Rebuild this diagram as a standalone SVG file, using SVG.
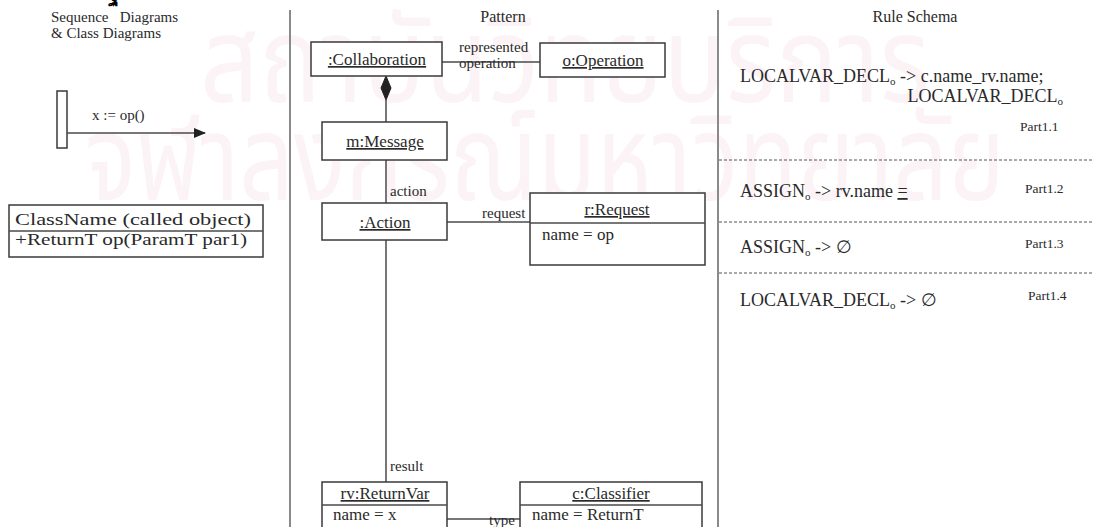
<svg xmlns="http://www.w3.org/2000/svg" width="1093" height="527" viewBox="0 0 1093 527">
  <defs>
    <style>
      text { font-family: "Liberation Serif", "Times New Roman", serif; fill: #2a2a2a; }
      .title { font-size: 15px; }
      .head { font-size: 16px; }
      .lbl { font-size: 17px; }
      .cls { font-size: 16px; }
      .edge { font-size: 15px; }
      .rule { font-size: 18px; }
      .part { font-size: 13.5px; }
      .box { fill: #fff; stroke: #3a3a3a; stroke-width: 1.5; }
      .line { stroke: #4a4a4a; stroke-width: 1.5; fill: none; }
      .divider { stroke: #8a8a8a; stroke-width: 2; }
      .dash { stroke: #555; stroke-width: 1; stroke-dasharray: 3 2; }
      .wm { font-family: "Noto Sans Thai", "Loma", "Garuda", "Norasi", sans-serif; fill: #fcf3f6; font-size: 120px; }
    </style>
    <marker id="arrow" markerWidth="12" markerHeight="10" refX="11" refY="5" orient="auto" markerUnits="userSpaceOnUse">
      <path d="M0,0 L12,5 L0,10 Z" fill="#222"/>
    </marker>
  </defs>
  <rect width="1093" height="527" fill="#fff"/>

  <!-- faint background watermark -->
  <g id="watermark">
    <text class="wm" x="200" y="102" textLength="730" lengthAdjust="spacingAndGlyphs">สถาบันวิทยบริการ</text>
    <text class="wm" x="85" y="200" textLength="920" lengthAdjust="spacingAndGlyphs">จุฬาลงกรณ์มหาวิทยาลัย</text>
  </g>

  <!-- fragment of a line from the page above -->
  <text x="108" y="1" font-size="20" font-weight="bold" style="fill:#000">ฐ</text>

  <!-- panel dividers -->
  <line class="divider" x1="290" y1="10" x2="290" y2="527"/>
  <line class="divider" x1="718" y1="10" x2="718" y2="527"/>

  <!-- left panel: sequence and class diagrams -->
  <g id="left-titles">
    <text class="title" x="51" y="22" xml:space="preserve">Sequence   Diagrams</text>
    <text class="title" x="51" y="38">&amp; Class Diagrams</text>
  </g>
  <g id="lifeline">
    <rect class="box" x="57" y="91" width="10" height="57"/>
  </g>
  <g id="call-message">
    <line class="line" x1="67" y1="133" x2="205" y2="133" marker-end="url(#arrow)"/>
    <text class="title" x="92" y="120" font-size="14">x := op()</text>
  </g>
  <g id="called-class">
    <rect class="box" x="9" y="205" width="254" height="52"/>
    <line class="line" x1="9" y1="231" x2="263" y2="231"/>
    <text class="cls" x="15" y="225" textLength="236" lengthAdjust="spacingAndGlyphs">ClassName (called object)</text>
    <text class="cls" x="15" y="245" textLength="232" lengthAdjust="spacingAndGlyphs">+ReturnT op(ParamT par1)</text>
  </g>

  <!-- middle panel: pattern -->
  <text class="head" x="503" y="22" text-anchor="middle">Pattern</text>

  <g id="connectors">
    <line class="line" x1="442" y1="62" x2="540" y2="62"/>
    <path d="M386,76 L391,88 L386,100 L381,88 Z" fill="#222" stroke="#222" stroke-width="1"/>
    <line class="line" x1="386" y1="100" x2="386" y2="122"/>
    <line class="line" x1="386" y1="160" x2="386" y2="203"/>
    <line class="line" x1="447" y1="222" x2="530" y2="222"/>
    <line class="line" x1="386" y1="240" x2="386" y2="482"/>
    <line class="line" x1="447" y1="519" x2="520" y2="519"/>
    <text class="edge" x="459" y="52">represented</text>
    <text class="edge" x="459" y="68">operation</text>
    <text class="edge" x="390" y="196">action</text>
    <text class="edge" x="482" y="218">request</text>
    <text class="edge" x="390" y="471">result</text>
    <text class="edge" x="489" y="525">type</text>
  </g>

  <g id="collaboration">
    <rect class="box" x="311" y="42" width="131" height="34"/>
    <text class="lbl" x="377" y="65" text-anchor="middle" text-decoration="underline">:Collaboration</text>
  </g>
  <g id="operation">
    <rect class="box" x="540" y="43" width="125" height="34" stroke-width="2.5"/>
    <text class="lbl" x="603" y="66" text-anchor="middle" text-decoration="underline">o:Operation</text>
  </g>
  <g id="message">
    <rect class="box" x="322" y="122" width="125" height="38"/>
    <text class="lbl" x="385" y="147" text-anchor="middle" text-decoration="underline">m:Message</text>
  </g>
  <g id="action">
    <rect class="box" x="322" y="203" width="125" height="37"/>
    <text class="lbl" x="385" y="228" text-anchor="middle" text-decoration="underline">:Action</text>
  </g>
  <g id="request">
    <rect class="box" x="530" y="193" width="175" height="72"/>
    <line class="line" x1="530" y1="223" x2="705" y2="223"/>
    <text class="lbl" x="617" y="215" text-anchor="middle" text-decoration="underline">r:Request</text>
    <text class="lbl" x="542" y="240">name = op</text>
  </g>
  <g id="returnvar">
    <rect class="box" x="322" y="482" width="125" height="50"/>
    <line class="line" x1="322" y1="505" x2="447" y2="505"/>
    <text class="lbl" x="385" y="499" text-anchor="middle" text-decoration="underline">rv:ReturnVar</text>
    <text class="lbl" x="333" y="520">name = x</text>
  </g>
  <g id="classifier">
    <rect class="box" x="520" y="482" width="182" height="50"/>
    <line class="line" x1="520" y1="505" x2="702" y2="505"/>
    <text class="lbl" x="611" y="499" text-anchor="middle" text-decoration="underline">c:Classifier</text>
    <text class="lbl" x="532" y="520">name = ReturnT</text>
  </g>

  <!-- right panel: rule schema -->
  <g id="rules">
    <text class="head" x="915" y="22" text-anchor="middle">Rule Schema</text>
    <text class="rule" x="740" y="82">LOCALVAR_DECL<tspan font-size="11" dy="3">o</tspan><tspan dy="-3"> -&gt; c.name_rv.name;</tspan></text>
    <text class="rule" x="1063" y="102" text-anchor="end">LOCALVAR_DECL<tspan font-size="11" dy="3">o</tspan></text>
    <text class="part" x="1020" y="131">Part1.1</text>
    <line class="dash" x1="719" y1="160" x2="1093" y2="160"/>
    <text class="rule" x="740" y="197">ASSIGN<tspan font-size="11" dy="3">o</tspan><tspan dy="-3"> -&gt; rv.name </tspan><tspan text-decoration="underline">=</tspan></text>
    <text class="part" x="1025" y="193">Part1.2</text>
    <line class="dash" x1="719" y1="222" x2="1093" y2="222"/>
    <text class="rule" x="740" y="253">ASSIGN<tspan font-size="11" dy="3">o</tspan><tspan dy="-3"> -&gt; ∅</tspan></text>
    <text class="part" x="1025" y="248">Part1.3</text>
    <line class="dash" x1="719" y1="273" x2="1093" y2="273"/>
    <text class="rule" x="740" y="306">LOCALVAR_DECL<tspan font-size="11" dy="3">o</tspan><tspan dy="-3"> -&gt; ∅</tspan></text>
    <text class="part" x="1028" y="300">Part1.4</text>
  </g>
</svg>
